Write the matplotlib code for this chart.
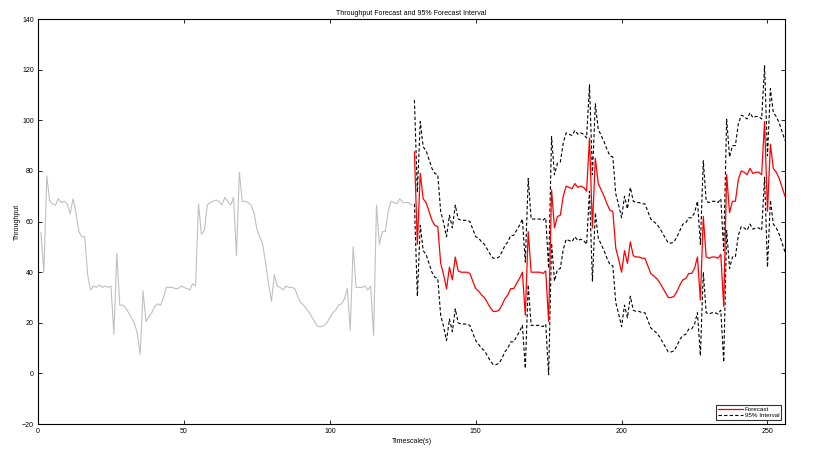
import matplotlib
matplotlib.use('Agg')
import matplotlib.pyplot as plt
import numpy as np

# observed throughput, t = 1..128
history = [55.5, 40, 78, 68, 67, 66.5, 69, 67.5, 68, 67, 63, 69, 63.5, 56, 54, 54,
           39, 33, 34.5, 34, 35, 34, 34.5, 34, 34.5, 15.5, 47.5, 27, 27, 26, 24, 22,
           20, 16, 7.5, 32.5, 20.5, 22.5, 24, 26.5, 27.5, 27, 30, 34, 34, 34, 33.5, 33.5,
           34.5, 34, 33.5, 33, 35.5, 34.5, 67, 55, 56.5, 66.5, 67.5, 68, 68.5, 68, 66.5, 69.5,
           68, 66.5, 69.5, 46.5, 79.5, 68, 68, 67.5, 66.5, 63.5, 57, 54, 51, 43.5, 35.5, 28.5,
           39, 34.5, 34, 33, 34.5, 34, 34, 33.5, 30.5, 28, 27, 25.5, 24, 22, 20, 18.5,
           18.5, 19, 20, 22, 24, 25, 27, 27.5, 29.5, 33.5, 17, 50, 34, 34, 34, 34.5,
           33, 34.5, 15, 66.5, 51, 56, 56, 64, 68, 67.5, 67, 69, 67.5, 67.5, 67.5, 66.5]

# forecast, t = 129..256
forecast = [87.5, 51, 79, 69, 67.5, 64, 60.5, 58.5, 58, 43.5, 39, 33.5, 42, 37, 46, 40.5,
            40, 40, 40, 39.5, 36.5, 33.5, 32.5, 31, 30, 28, 26, 24.5, 24.5, 25, 27, 29.5,
            31, 33.5, 33.5, 35.5, 37.5, 40, 23, 56, 40, 40, 40, 40, 39.5, 40.5, 20.5, 72.5,
            57.5, 62, 62.5, 70, 74, 73.5, 73, 75, 73.5, 74, 73.5, 72, 93, 57.5, 85, 75,
            72.5, 70, 67, 64.5, 64, 49.5, 45, 40, 48.5, 43.5, 52, 46.5, 46, 46, 45.5, 45.5,
            42.5, 39.5, 38.5, 37.5, 36, 34, 32, 30, 30, 30.5, 32.5, 35, 37, 37.5, 39.5, 39.5,
            41.5, 46, 29, 62, 46, 45.5, 46, 46, 45.5, 47, 26.5, 78.5, 63.5, 68, 68, 76.5,
            80, 79.5, 78.5, 81, 79, 79.5, 79.5, 78.5, 99.5, 64, 90.5, 81, 79.5, 77, 73.5, 70]

upper = [108, 71.5, 99.5, 89.5, 88, 84.5, 81, 79, 78.5, 64, 59.5, 54, 62.5, 57.5, 66.5, 61,
         60.5, 60.5, 60.5, 60, 57, 54, 53.5, 52, 51, 49, 47, 45.5, 45.5, 46, 48, 50.5,
         52, 54.5, 54.5, 56.5, 58.5, 61, 44, 77, 61, 61, 61, 61, 60.5, 61.5, 41.5, 93.5,
         78.5, 83, 83.5, 91, 95, 94.5, 94, 96, 94.5, 95, 94.5, 93, 114, 78.5, 106.5, 96.5,
         94, 91.5, 88.5, 86, 85.5, 71, 66.5, 61.5, 70, 65, 73.5, 68, 67.5, 67.5, 67, 67,
         64, 61, 60, 59, 57.5, 55.5, 53.5, 51.5, 51.5, 52, 54, 56.5, 59, 59.5, 61.5, 61.5,
         63.5, 68, 51, 84, 68, 67.5, 68, 68, 67.5, 69, 48.5, 100.5, 85.5, 90, 90, 98.5,
         102, 101.5, 100.5, 103, 101, 101.5, 101.5, 100.5, 121.5, 86, 112.5, 103, 101.5, 99, 95.5, 92]

lower = [67, 30.5, 58.5, 48.5, 47, 43.5, 40, 38, 37.5, 23, 18.5, 13, 21.5, 16.5, 25.5, 20,
         19.5, 19.5, 19.5, 19, 16, 13, 11.5, 10, 9, 7, 5, 3.5, 3.5, 4, 6, 8.5,
         10, 12.5, 12.5, 14.5, 16.5, 19, 2, 35, 19, 19, 19, 19, 18.5, 19.5, -0.5, 51.5,
         36.5, 41, 41.5, 49, 53, 52.5, 52, 54, 52.5, 53, 52.5, 51, 72, 36.5, 63.5, 53.5,
         51, 48.5, 45.5, 43, 42.5, 28, 23.5, 18.5, 27, 22, 30.5, 25, 24.5, 24.5, 24, 24,
         21, 18, 17, 16, 14.5, 12.5, 10.5, 8.5, 8.5, 9, 11, 13.5, 15, 15.5, 17.5, 17.5,
         19.5, 24, 7, 40, 24, 23.5, 24, 24, 23.5, 25, 4.5, 56.5, 41.5, 46, 46, 54.5,
         58, 57.5, 56.5, 59, 57, 57.5, 57.5, 56.5, 77.5, 42, 68.5, 59, 57.5, 55, 51.5, 48]

plt.rcParams['font.family'] = ['Liberation Sans', 'DejaVu Sans']

t_hist = np.arange(1, len(history) + 1)
t_fc = np.arange(len(history) + 1, len(history) + len(forecast) + 1)

fig = plt.figure(figsize=(8.16, 4.58), dpi=100)
ax = fig.add_axes([0.0466, 0.074, 0.9154, 0.8845])

ax.plot(t_hist, history, color='#c0c0c0', lw=0.8)
ax.plot(t_fc, forecast, color='red', lw=0.9, label='Forecast', zorder=4)
ax.plot(t_fc, upper, color='black', lw=0.8, ls=(0, (3, 2)), label='95% Interval', zorder=3)
ax.plot(t_fc, lower, color='black', lw=0.8, ls=(0, (3, 2)), zorder=3)

ax.set_xlim(0, 256)
ax.set_ylim(-20, 140)
ax.set_xticks(np.arange(0, 251, 50))
ax.set_yticks(np.arange(-20, 141, 20))
ax.tick_params(direction='in', top=True, right=True, labelsize=5, length=3, width=0.6, pad=3)
for s in ax.spines.values():
    s.set_linewidth(0.8)

ax.set_title('Throughput Forecast and 95% Forecast Interval', fontsize=5, pad=3)
ax.set_xlabel('Timescale(s)', fontsize=5, labelpad=2)
ax.set_ylabel('Throughput', fontsize=5, labelpad=1)

leg = ax.legend(loc='lower right', fontsize=4.5, handlelength=4, frameon=True, fancybox=False,
                edgecolor='black', borderpad=0.3, labelspacing=0.2, handletextpad=0.3,
                borderaxespad=0.6)
leg.get_frame().set_linewidth(0.8)

plt.savefig('out.png', dpi=100)
